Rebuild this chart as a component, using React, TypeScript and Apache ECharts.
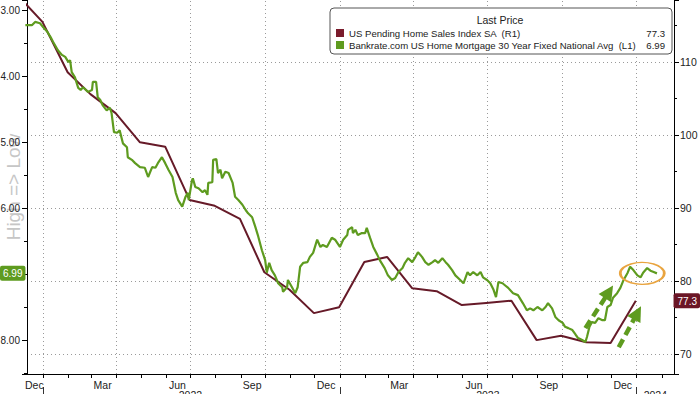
import React, { useEffect, useRef } from 'react';
import * as echarts from 'echarts';

// ---------- data ----------
const PHS_NAME = 'US Pending Home Sales Index SA  (R1)';
const MTG_NAME = 'Bankrate.com US Home Mortgage 30 Year Fixed National Avg  (L1)';
const lastValues: Record<string, string> = { [PHS_NAME]: '77.3', [MTG_NAME]: '6.99' };

const phsDates = [
  '2021-11-30', '2021-12-31', '2022-01-31', '2022-02-28', '2022-03-31', '2022-04-30',
  '2022-05-31', '2022-06-30', '2022-07-31', '2022-08-31', '2022-09-30', '2022-10-31',
  '2022-11-30', '2022-12-31', '2023-01-31', '2023-02-28', '2023-03-31', '2023-04-30',
  '2023-05-31', '2023-06-30', '2023-07-31', '2023-08-31', '2023-09-30', '2023-10-31',
  '2023-11-30', '2023-12-31',
];
const phsValues = [
  119.2, 115.5, 108.6, 105.6, 103.0, 99.0,
  98.4, 91.1, 90.3, 88.5, 81.2, 78.8,
  75.6, 76.4, 82.6, 83.3, 79.0, 78.6,
  76.7, 77.0, 77.3, 71.9, 72.5, 71.6,
  71.5, 77.3,
];

const mortgagePoints: [string, number][] = [
  ['2021-12-10', 3.23], ['2021-12-18', 3.23], ['2021-12-22', 3.18], ['2021-12-28', 3.20],
  ['2022-01-01', 3.26], ['2022-01-06', 3.33], ['2022-01-10', 3.41], ['2022-01-13', 3.48],
  ['2022-01-19', 3.61], ['2022-01-24', 3.68], ['2022-01-28', 3.71], ['2022-02-01', 3.79],
  ['2022-02-03', 3.76], ['2022-02-05', 3.94], ['2022-02-09', 4.02], ['2022-02-13', 4.18],
  ['2022-02-16', 4.21], ['2022-02-19', 4.17], ['2022-02-25', 4.24], ['2022-03-02', 4.21],
  ['2022-03-03', 4.09], ['2022-03-07', 4.09], ['2022-03-09', 4.32], ['2022-03-12', 4.36],
  ['2022-03-15', 4.44], ['2022-03-20', 4.52], ['2022-03-24', 4.48], ['2022-03-26', 4.56],
  ['2022-03-29', 4.85], ['2022-04-02', 4.86], ['2022-04-05', 4.82], ['2022-04-09', 5.02],
  ['2022-04-14', 5.08], ['2022-04-15', 5.23], ['2022-04-20', 5.27], ['2022-04-24', 5.32],
  ['2022-04-30', 5.38], ['2022-05-06', 5.39], ['2022-05-10', 5.53], ['2022-05-15', 5.38],
  ['2022-05-19', 5.39], ['2022-05-22', 5.32], ['2022-05-27', 5.23], ['2022-05-31', 5.32],
  ['2022-06-04', 5.42], ['2022-06-09', 5.53], ['2022-06-13', 5.77], ['2022-06-16', 5.88],
  ['2022-06-21', 5.98], ['2022-06-25', 5.83], ['2022-06-28', 5.77], ['2022-06-29', 5.88],
  ['2022-07-03', 5.58], ['2022-07-04', 5.55], ['2022-07-07', 5.68], ['2022-07-11', 5.70],
  ['2022-07-16', 5.76], ['2022-07-19', 5.73], ['2022-07-22', 5.80], ['2022-07-23', 5.62],
  ['2022-07-28', 5.61], ['2022-07-29', 5.27], ['2022-08-02', 5.26], ['2022-08-04', 5.47],
  ['2022-08-07', 5.42], ['2022-08-09', 5.55], ['2022-08-13', 5.45], ['2022-08-17', 5.47],
  ['2022-08-22', 5.62], ['2022-08-25', 5.83], ['2022-08-29', 5.88], ['2022-09-03', 5.95],
  ['2022-09-07', 6.03], ['2022-09-10', 6.08], ['2022-09-15', 6.14], ['2022-09-19', 6.29],
  ['2022-09-22', 6.41], ['2022-09-27', 6.64], ['2022-10-01', 6.79], ['2022-10-03', 6.98],
  ['2022-10-06', 6.83], ['2022-10-09', 6.94], ['2022-10-13', 7.02], ['2022-10-17', 7.14],
  ['2022-10-22', 7.20], ['2022-10-23', 7.27], ['2022-10-28', 7.20], ['2022-10-29', 7.09],
  ['2022-11-03', 7.20], ['2022-11-07', 7.29], ['2022-11-10', 7.20], ['2022-11-13', 6.89],
  ['2022-11-17', 6.83], ['2022-11-22', 6.82], ['2022-11-25', 6.74], ['2022-11-29', 6.68],
  ['2022-12-04', 6.48], ['2022-12-08', 6.59], ['2022-12-11', 6.56], ['2022-12-16', 6.59],
  ['2022-12-22', 6.45], ['2022-12-26', 6.48], ['2023-01-01', 6.59], ['2023-01-05', 6.48],
  ['2023-01-10', 6.41], ['2023-01-11', 6.33], ['2023-01-16', 6.29], ['2023-01-17', 6.38],
  ['2023-01-20', 6.33], ['2023-01-23', 6.41], ['2023-01-28', 6.38], ['2023-02-01', 6.38],
  ['2023-02-03', 6.30], ['2023-02-07', 6.45], ['2023-02-11', 6.59], ['2023-02-16', 6.71],
  ['2023-02-19', 6.79], ['2023-02-25', 6.91], ['2023-03-01', 7.02], ['2023-03-06', 7.09],
  ['2023-03-10', 7.06], ['2023-03-14', 6.97], ['2023-03-19', 6.91], ['2023-03-22', 6.83],
  ['2023-03-26', 6.76], ['2023-03-31', 6.82], ['2023-04-04', 6.74], ['2023-04-07', 6.67],
  ['2023-04-12', 6.74], ['2023-04-16', 6.82], ['2023-04-20', 6.86], ['2023-04-25', 6.82],
  ['2023-04-28', 6.79], ['2023-05-02', 6.83], ['2023-05-07', 6.76], ['2023-05-11', 6.82],
  ['2023-05-14', 6.86], ['2023-05-19', 6.94], ['2023-05-23', 7.02], ['2023-05-29', 7.09],
  ['2023-06-02', 7.14], ['2023-06-07', 6.97], ['2023-06-10', 7.02], ['2023-06-14', 6.97],
  ['2023-06-19', 7.02], ['2023-06-23', 6.97], ['2023-06-26', 7.05], ['2023-07-01', 7.09],
  ['2023-07-05', 7.14], ['2023-07-09', 7.24], ['2023-07-12', 7.35], ['2023-07-15', 7.12],
  ['2023-07-20', 7.14], ['2023-07-23', 7.17], ['2023-07-27', 7.21], ['2023-08-02', 7.29],
  ['2023-08-08', 7.32], ['2023-08-14', 7.44], ['2023-08-19', 7.55], ['2023-08-23', 7.52],
  ['2023-08-27', 7.55], ['2023-09-01', 7.50], ['2023-09-07', 7.55], ['2023-09-11', 7.50],
  ['2023-09-14', 7.44], ['2023-09-19', 7.52], ['2023-09-23', 7.65], ['2023-09-27', 7.70],
  ['2023-10-02', 7.74], ['2023-10-05', 7.80], ['2023-10-09', 7.82], ['2023-10-14', 7.85],
  ['2023-10-18', 7.92], ['2023-10-21', 7.97], ['2023-10-26', 8.00], ['2023-10-30', 8.03],
  ['2023-11-01', 7.95], ['2023-11-04', 7.80], ['2023-11-07', 7.73], ['2023-11-11', 7.74],
  ['2023-11-15', 7.67], ['2023-11-20', 7.70], ['2023-11-23', 7.70], ['2023-11-26', 7.50],
  ['2023-11-30', 7.47], ['2023-12-03', 7.36], ['2023-12-08', 7.29], ['2023-12-12', 7.21],
  ['2023-12-16', 7.09], ['2023-12-21', 6.98], ['2023-12-24', 6.89], ['2023-12-28', 6.94],
  ['2024-01-02', 7.02], ['2024-01-06', 7.05], ['2024-01-09', 6.98], ['2024-01-14', 6.91],
  ['2024-01-18', 6.95], ['2024-01-22', 6.97], ['2024-01-26', 6.99],
];

// annotation anchors (in data units)
const arrowSegments: [[string, number], [string, number]][] = [
  [['2023-10-30', 7.82], ['2023-11-28', 7.27]],
  [['2023-12-10', 8.11], ['2024-01-02', 7.59]],
];
const highlightCenter: [string, number] = ['2024-01-08', 6.99];

// axis ticks / labels
const xMin = '2021-12-12';
const xMax = '2024-02-16';
const quarterGridDates = [
  '2022-01-01', '2022-04-01', '2022-07-01', '2022-10-01',
  '2023-01-01', '2023-04-01', '2023-07-01', '2023-10-01', '2024-01-01',
];
const quarterLabelDates = [
  '2021-12-21', '2022-03-15', '2022-06-15', '2022-09-15',
  '2022-12-15', '2023-03-15', '2023-06-15', '2023-09-15', '2023-12-15',
];
const monthTickDates = [
  '2022-01-01', '2022-02-01', '2022-03-01', '2022-04-01', '2022-05-01', '2022-06-01',
  '2022-07-01', '2022-08-01', '2022-09-01', '2022-10-01', '2022-11-01', '2022-12-01',
  '2023-01-01', '2023-02-01', '2023-03-01', '2023-04-01', '2023-05-01', '2023-06-01',
  '2023-07-01', '2023-08-01', '2023-09-01', '2023-10-01', '2023-11-01', '2023-12-01',
  '2024-01-01', '2024-02-01',
];
const yearTickDates = ['2022-01-01', '2023-01-01', '2024-01-01'];
const yearLabelDates = ['2022-07-01', '2023-07-02', '2024-01-24'];
const monthNames = ['Jan', 'Feb', 'Mar', 'Apr', 'May', 'Jun', 'Jul', 'Aug', 'Sep', 'Oct', 'Nov', 'Dec'];

const FONT = 'Liberation Sans, Arial, sans-serif';
const MAROON = '#661a28';
const GREEN = '#5e9b1f';
const GRID = '#9a9a9a';

// date string -> timestamp (local midnight)
const ts = (s: string) => {
  const [y, m, d] = s.split('-').map(Number);
  return new Date(y, m - 1, d).getTime();
};

export default function App() {
  const ref = useRef<HTMLDivElement>(null);
  useEffect(() => {
    if (!ref.current) return;
    const chart = echarts.init(ref.current, undefined, { renderer: 'svg' });
    const intLabel = (v: number, dec: number, skip?: number) =>
      Math.abs(v - Math.round(v)) < 1e-6 && Math.round(v) !== skip ? v.toFixed(dec) : '';

    const option: any = {
      animation: false,
      backgroundColor: '#ffffff',
      textStyle: { fontFamily: FONT },
      axisPointer: { triggerOn: 'none' },
      grid: { left: 27, right: 26, top: 0, bottom: 20, containLabel: false, outerBoundsMode: 'none' },
      legend: {
        orient: 'vertical',
        left: 330,
        top: 8,
        padding: [19, 7, 3, 6],
        itemGap: 0,
        itemWidth: 8,
        itemHeight: 8,
        icon: 'rect',
        backgroundColor: '#ffffff',
        borderColor: '#555555',
        borderWidth: 1,
        borderRadius: 4,
        selectedMode: false,
        data: [PHS_NAME, MTG_NAME],
        formatter: (name: string) => `{n|${name}}{v|${lastValues[name]}}`,
        textStyle: {
          fontSize: 9.6,
          color: '#222',
          lineHeight: 12,
          rich: {
            n: { width: 290, fontSize: 9.6, color: '#222', fontFamily: FONT },
            v: { width: 26, align: 'right', fontSize: 9.6, color: '#222', fontFamily: FONT },
          },
        },
      },
      graphic: [
        {
          type: 'text',
          x: 500,
          y: 20,
          z: 100,
          style: { text: 'Last Price', align: 'center', verticalAlign: 'middle', fontSize: 10.5, fill: '#222', fontFamily: FONT },
        },
      ],
      xAxis: [
        {
          type: 'value',
          min: ts(xMin),
          max: ts(xMax),
          position: 'bottom',
          axisLine: { show: true, lineStyle: { color: '#000', width: 1 } },
          axisTick: { show: true, customValues: monthTickDates.map(ts), length: 4, lineStyle: { color: '#000' } },
          axisLabel: {
            customValues: quarterLabelDates.map(ts),
            formatter: (v: number) => monthNames[new Date(v).getMonth()],
            margin: 5,
            fontSize: 10.5,
            color: '#222',
          },
          splitLine: { show: false },
        },
        {
          type: 'value',
          min: ts(xMin),
          max: ts(xMax),
          position: 'bottom',
          offset: 13,
          axisLine: { show: false },
          axisTick: { show: true, customValues: yearTickDates.map(ts), length: 9, lineStyle: { color: '#333' } },
          axisLabel: {
            customValues: yearLabelDates.map(ts),
            formatter: (v: number) => String(new Date(v).getFullYear()),
            margin: 2,
            fontSize: 10.5,
            color: '#222',
          },
          splitLine: { show: false },
        },
      ],
      yAxis: [
        {
          type: 'value',
          position: 'left',
          inverse: true,
          min: 2.848,
          max: 8.515,
          name: 'High => Low',
          nameLocation: 'middle',
          nameRotate: 90,
          nameGap: 4,
          nameMoveOverlap: false,
          nameTextStyle: { color: '#c6c6c6', fontSize: 19, fontFamily: FONT },
          axisLine: { show: true, lineStyle: { color: '#000' } },
          axisTick: { show: true, length: 5, lineStyle: { color: '#000' } },
          minorTick: { show: true, splitNumber: 2, length: 3, lineStyle: { color: '#000' } },
          axisLabel: {
            showMinLabel: false,
            showMaxLabel: false,
            margin: 7,
            fontSize: 10,
            color: '#222',
            formatter: (v: number) => intLabel(v, 2, 7),
          },
          splitLine: { show: false },
          axisPointer: {
            show: true,
            type: 'none',
            status: 'show',
            value: 6.99,
            triggerTooltip: false,
            label: {
              show: true,
              formatter: (p: any) => Number(p.value).toFixed(2),
              backgroundColor: GREEN,
              color: '#fff',
              padding: [3, 3, 2, 3],
              fontSize: 10,
              margin: 2,
              borderRadius: 2,
              fontFamily: FONT,
            },
          },
        },
        {
          type: 'value',
          position: 'right',
          min: 67.26,
          max: 118.49,
          axisLine: { show: true, lineStyle: { color: '#000' } },
          axisTick: { show: true, length: 5, lineStyle: { color: '#000' } },
          minorTick: { show: true, splitNumber: 2, length: 3, lineStyle: { color: '#000' } },
          axisLabel: {
            showMinLabel: false,
            showMaxLabel: false,
            margin: 6,
            fontSize: 10.5,
            color: '#222',
            formatter: (v: number) => intLabel(v, 0),
          },
          splitLine: {
            show: true,
            showMinLine: false,
            showMaxLine: false,
            lineStyle: { color: GRID, type: [1, 3], width: 1 },
          },
          axisPointer: {
            show: true,
            type: 'none',
            status: 'show',
            value: 77.3,
            triggerTooltip: false,
            label: {
              show: true,
              formatter: (p: any) => Number(p.value).toFixed(1),
              backgroundColor: '#6b1626',
              color: '#fff',
              padding: [3, 3, 2, 4],
              fontSize: 10,
              margin: 2,
              borderRadius: 2,
              fontFamily: FONT,
            },
          },
        },
      ],
      series: [
        {
          name: PHS_NAME,
          type: 'line',
          xAxisIndex: 0,
          yAxisIndex: 1,
          data: phsDates.map((d, i) => [ts(d), phsValues[i]]),
          symbol: 'none',
          silent: true,
          z: 2,
          lineStyle: { color: MAROON, width: 2 },
          itemStyle: { color: '#7a1b2c' },
          markLine: {
            silent: true,
            symbol: 'none',
            z: 1,
            label: { show: false },
            emphasis: { disabled: true },
            lineStyle: { color: GRID, type: [1, 3], width: 1 },
            data: quarterGridDates.map((d) => ({ xAxis: ts(d) })),
          },
        },
        {
          name: MTG_NAME,
          type: 'line',
          xAxisIndex: 0,
          yAxisIndex: 0,
          data: mortgagePoints.map(([d, v]) => [ts(d), v]),
          symbol: 'none',
          silent: true,
          z: 3,
          lineStyle: { color: GREEN, width: 2.2 },
          itemStyle: { color: GREEN },
          markLine: {
            silent: true,
            z: 10,
            symbol: ['none', 'triangle'],
            symbolSize: [15, 15],
            label: { show: false },
            emphasis: { disabled: true },
            lineStyle: { color: GREEN, width: 4.5, type: [9, 5] },
            data: arrowSegments.map(([a, b]) => [{ coord: [ts(a[0]), a[1]] }, { coord: [ts(b[0]), b[1]] }]),
          },
          markPoint: {
            silent: true,
            z: 10,
            symbol: 'circle',
            symbolSize: [44, 22],
            label: { show: false },
            itemStyle: { color: 'rgba(255,255,255,0)', borderColor: '#e9a43f', borderWidth: 2 },
            data: [{ coord: [ts(highlightCenter[0]), highlightCenter[1]] }],
          },
        },
      ],
    };
    chart.setOption(option);
    return () => chart.dispose();
  }, []);
  return <div ref={ref} style={{ position: 'absolute', left: 0, top: 0, width: 700, height: 394 }} />;
}
